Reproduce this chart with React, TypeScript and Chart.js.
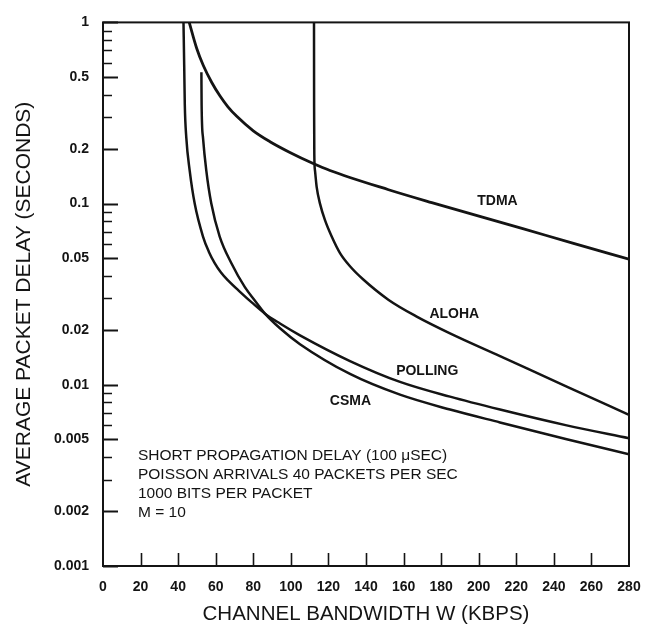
import React, { useEffect, useRef } from 'react';
import { Chart, registerables } from 'chart.js';

Chart.register(...registerables);

// ---------- data ----------
const xTicks = [0, 20, 40, 60, 80, 100, 120, 140, 160, 180, 200, 220, 240, 260, 280];
const yTicks = [1, 0.5, 0.2, 0.1, 0.05, 0.02, 0.01, 0.005, 0.002, 0.001];
const yTickLabels = ['1', '0.5', '0.2', '0.1', '0.05', '0.02', '0.01', '0.005', '0.002', '0.001'];
const yMinorTicks = [0.9, 0.8, 0.7, 0.6, 0.4, 0.3, 0.09, 0.08, 0.07, 0.06, 0.04, 0.03, 0.009, 0.008, 0.007, 0.006, 0.004, 0.003];

// bandwidth W (kbps) and average delay D (s)
const tdmaW = [45.9, 49.9, 53.4, 57.9, 62.3, 66.5, 71.2, 80.0, 88.9, 99.5, 111.9, 120.8, 152.0, 175.0, 223.0, 250.0, 280.0];
const tdmaD = [1, 0.718, 0.578, 0.466, 0.392, 0.342, 0.303, 0.2521, 0.2196, 0.1916, 0.1665, 0.1524, 0.1193, 0.1013, 0.073, 0.0605, 0.0494];

const alohaW = [112.32, 112.37, 112.48, 112.85, 113.75, 115.51, 118.17, 121.74, 126.16, 131.48, 138.56, 151.87, 166.99, 184.71, 211.33, 246.83, 280.0];
const alohaD = [1, 0.352, 0.1876, 0.152, 0.1234, 0.1, 0.081, 0.0658, 0.0533, 0.0451, 0.0381, 0.0295, 0.0238, 0.01924, 0.0144, 0.00977, 0.00683];

const pollingW = [42.85, 43.22, 43.54, 44.34, 46.15, 48.81, 53.23, 56.32, 59.46, 62.81, 66.54, 72.93, 79.31, 86.23, 94.21, 104.86, 131.48, 158.1, 184.71, 211.33, 246.83, 280.0];
const pollingD = [1, 0.582, 0.352, 0.2314, 0.152, 0.1, 0.0658, 0.0543, 0.047, 0.0417, 0.0377, 0.0326, 0.0284, 0.0247, 0.0218, 0.01876, 0.01353, 0.01038, 0.0086, 0.0073, 0.00597, 0.00507];

const csmaW = [52.38, 52.49, 53.23, 54.99, 57.65, 62.12, 68.29, 75.43, 80.91, 86.23, 94.21, 104.86, 131.48, 158.1, 184.71, 211.33, 246.83, 280.0];
const csmaD = [0.531, 0.352, 0.2314, 0.152, 0.1, 0.0658, 0.047, 0.0347, 0.0291, 0.0247, 0.0205, 0.01676, 0.01148, 0.00882, 0.0073, 0.0062, 0.00501, 0.00413];

const curveLabels = ['TDMA', 'ALOHA', 'POLLING', 'CSMA'];
const curveLabelW = [210.0, 187.0, 172.6, 131.7];
const curveLabelD = [0.103, 0.0247, 0.0119, 0.00814];

const noteLines = [
  'SHORT PROPAGATION DELAY (100 \u03bcSEC)',
  'POISSON ARRIVALS 40 PACKETS PER SEC',
  '1000 BITS PER PACKET',
  'M = 10',
];
const noteW = 18.6;
const noteD = 0.00404;

const xTitle = 'CHANNEL BANDWIDTH W (KBPS)';
const yTitle = 'AVERAGE PACKET DELAY (SECONDS)';

// ---------- styles ----------
const INK = '#141414';
const FONT = '"Liberation Sans", Arial, Helvetica, sans-serif';

const toPoints = (ws: number[], ds: number[]) => ws.map((w, i) => ({ x: w, y: ds[i] }));

const framePlugin = {
  id: 'frameAndTicks',
  afterDatasetsDraw(chart: any) {
    const { ctx, chartArea: a, scales } = chart;
    const xs = scales.x;
    const ys = scales.y;
    ctx.save();
    ctx.strokeStyle = INK;
    ctx.lineCap = 'butt';
    ctx.lineWidth = 2;
    ctx.strokeRect(a.left, a.top, a.right - a.left, a.bottom - a.top);
    ctx.beginPath();
    yTicks.forEach((v) => {
      const py = Math.round(ys.getPixelForValue(v)) + 0.5;
      ctx.moveTo(a.left, py);
      ctx.lineTo(a.left + 15, py);
    });
    ctx.lineWidth = 2;
    ctx.stroke();
    ctx.beginPath();
    yMinorTicks.forEach((v) => {
      const py = Math.round(ys.getPixelForValue(v)) + 0.5;
      ctx.moveTo(a.left, py);
      ctx.lineTo(a.left + 9, py);
    });
    ctx.lineWidth = 1.6;
    ctx.stroke();
    ctx.beginPath();
    xTicks.slice(1, -1).forEach((v) => {
      const px = Math.round(xs.getPixelForValue(v)) + 0.5;
      ctx.moveTo(px, a.bottom);
      ctx.lineTo(px, a.bottom - 13);
    });
    ctx.lineWidth = 1.6;
    ctx.stroke();

    ctx.fillStyle = INK;
    ctx.textAlign = 'center';
    ctx.textBaseline = 'middle';
    ctx.font = `bold 14px ${FONT}`;
    curveLabels.forEach((t, i) => {
      ctx.fillText(t, xs.getPixelForValue(curveLabelW[i]), ys.getPixelForValue(curveLabelD[i]));
    });

    ctx.textAlign = 'left';
    ctx.font = `15.5px ${FONT}`;
    const nx = xs.getPixelForValue(noteW);
    const ny = ys.getPixelForValue(noteD);
    noteLines.forEach((t, i) => {
      ctx.fillText(t, nx, ny + i * 18.7);
    });
    ctx.restore();
  },
};

export default function App() {
  const ref = useRef<HTMLCanvasElement | null>(null);

  useEffect(() => {
    document.body.style.margin = '0';
    document.body.style.background = '#ffffff';
    const canvas = ref.current;
    if (!canvas) return;
    const mk = (ws: number[], ds: number[], width: number) => ({
      data: toPoints(ws, ds),
      borderColor: INK,
      borderWidth: width,
      pointRadius: 0,
      cubicInterpolationMode: 'monotone',
      fill: false,
    });
    const chart = new Chart(canvas, {
      type: 'line',
      data: {
        datasets: [
          mk(tdmaW, tdmaD, 2.8),
          mk(alohaW, alohaD, 2.5),
          mk(pollingW, pollingD, 2.5),
          mk(csmaW, csmaD, 2.5),
        ],
      },
      options: {
        responsive: false,
        animation: false,
        devicePixelRatio: 1,
        layout: { padding: { left: 0, right: 25, top: 17, bottom: 0 } },
        plugins: { legend: { display: false }, tooltip: { enabled: false } },
        scales: {
          x: {
            type: 'linear',
            min: 0,
            max: 280,
            grid: { display: false, drawTicks: false },
            border: { display: false },
            afterBuildTicks: (s: any) => {
              s.ticks = xTicks.map((v) => ({ value: v }));
            },
            afterFit: (s: any) => {
              s.height = 62;
            },
            ticks: {
              autoSkip: false,
              maxRotation: 0,
              padding: 13,
              color: INK,
              font: { family: FONT, size: 14, weight: 'bold' },
              callback: (v: any) => String(v),
            },
            title: {
              display: true,
              text: xTitle,
              color: INK,
              font: { family: FONT, size: 20.5 },
              padding: { top: 0, bottom: 1 },
            },
          },
          y: {
            type: 'logarithmic',
            min: 0.001,
            max: 1,
            grid: { display: false, drawTicks: false },
            border: { display: false },
            afterBuildTicks: (s: any) => {
              s.ticks = yTicks.map((v) => ({ value: v }));
            },
            afterFit: (s: any) => {
              s.width = 103;
            },
            ticks: {
              autoSkip: false,
              padding: 14,
              color: INK,
              font: { family: FONT, size: 14, weight: 'bold' },
              callback: (v: any) => {
                const i = yTicks.findIndex((t) => Math.abs(t - v) < t * 1e-6);
                return i >= 0 ? yTickLabels[i] : '';
              },
            },
            title: {
              display: true,
              text: yTitle,
              color: INK,
              font: { family: FONT, size: 21 },
              padding: { top: 12, bottom: 0 },
            },
          },
        },
      },
      plugins: [framePlugin],
    } as any);
    return () => chart.destroy();
  }, []);

  return (
    <div style={{ position: 'absolute', left: 0, top: 0, width: 654, height: 628, background: '#fff' }}>
      <canvas ref={ref} width={654} height={628} style={{ width: 654, height: 628, display: 'block' }} />
    </div>
  );
}
